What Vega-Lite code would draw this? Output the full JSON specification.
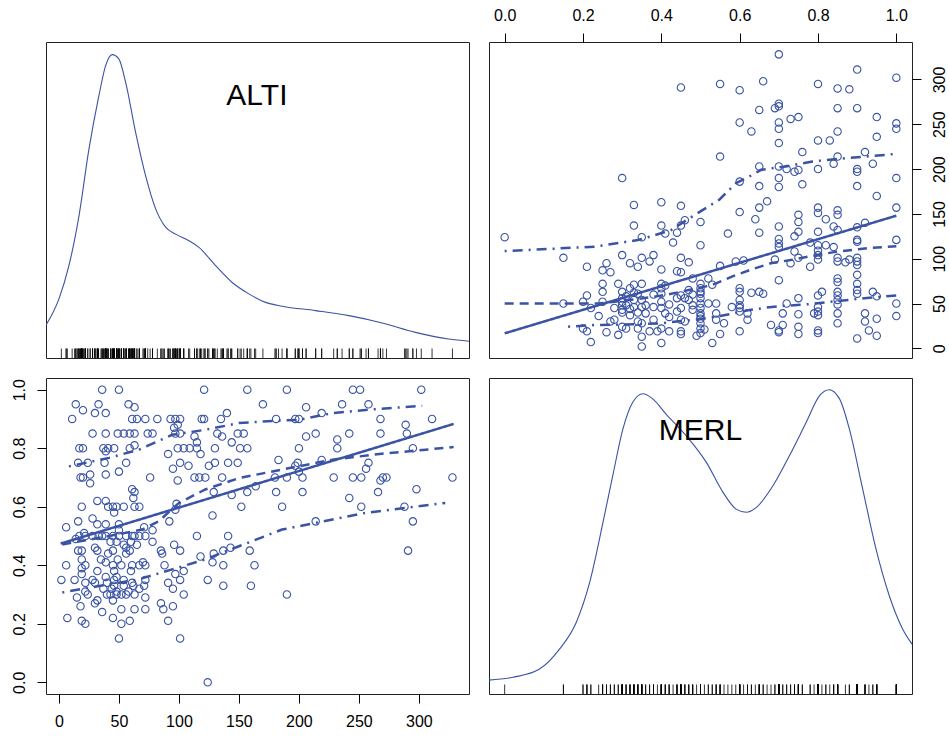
{
  "$schema": "https://vega.github.io/schema/vega-lite/v6.json",
  "padding": {"left": 10, "top": 6, "right": 0, "bottom": 0},
  "background": "white",
  "bounds": "flush",
  "columns": 2,
  "spacing": 20,
  "config": {
    "font": "Liberation Sans",
    "view": {"stroke": "#222222", "strokeWidth": 1},
    "axis": {
      "labelFont": "Liberation Sans", "labelFontSize": 16, "labelColor": "black",
      "tickColor": "black", "tickSize": 9, "tickWidth": 1, "domain": false, "grid": false,
      "labelPadding": 10, "labelOverlap": false, "labelBound": false, "labelFlush": false, "title": null
    }
  },
  "datasets": {
    "pts": [
      {"MERL":0,"ALTI":124},{"MERL":0.15,"ALTI":101},{"MERL":0.15,"ALTI":50},{"MERL":0.2,"ALTI":52},{"MERL":0.2,"ALTI":22},
      {"MERL":0.21,"ALTI":91},{"MERL":0.21,"ALTI":59},{"MERL":0.21,"ALTI":19},{"MERL":0.22,"ALTI":7},{"MERL":0.22,"ALTI":45},
      {"MERL":0.24,"ALTI":36},{"MERL":0.25,"ALTI":72},{"MERL":0.25,"ALTI":63},{"MERL":0.25,"ALTI":52},{"MERL":0.25,"ALTI":87},
      {"MERL":0.26,"ALTI":95},{"MERL":0.26,"ALTI":18},{"MERL":0.27,"ALTI":85},{"MERL":0.27,"ALTI":30},{"MERL":0.28,"ALTI":45},
      {"MERL":0.28,"ALTI":32},{"MERL":0.29,"ALTI":15},{"MERL":0.29,"ALTI":72},{"MERL":0.3,"ALTI":190},{"MERL":0.3,"ALTI":104},
      {"MERL":0.3,"ALTI":63},{"MERL":0.3,"ALTI":56},{"MERL":0.3,"ALTI":48},{"MERL":0.3,"ALTI":43},{"MERL":0.3,"ALTI":24},
      {"MERL":0.31,"ALTI":22},{"MERL":0.31,"ALTI":48},{"MERL":0.32,"ALTI":95},{"MERL":0.32,"ALTI":37},{"MERL":0.32,"ALTI":67},
      {"MERL":0.33,"ALTI":160},{"MERL":0.33,"ALTI":137},{"MERL":0.33,"ALTI":54},{"MERL":0.33,"ALTI":46},{"MERL":0.33,"ALTI":71},
      {"MERL":0.34,"ALTI":22},{"MERL":0.34,"ALTI":30},{"MERL":0.34,"ALTI":91},{"MERL":0.34,"ALTI":61},{"MERL":0.35,"ALTI":46},
      {"MERL":0.35,"ALTI":124},{"MERL":0.35,"ALTI":101},{"MERL":0.35,"ALTI":72},{"MERL":0.35,"ALTI":54},{"MERL":0.35,"ALTI":13},
      {"MERL":0.35,"ALTI":2},{"MERL":0.36,"ALTI":39},{"MERL":0.37,"ALTI":97},{"MERL":0.37,"ALTI":19},{"MERL":0.38,"ALTI":46},
      {"MERL":0.38,"ALTI":32},{"MERL":0.38,"ALTI":104},{"MERL":0.39,"ALTI":19},{"MERL":0.4,"ALTI":163},{"MERL":0.4,"ALTI":137},
      {"MERL":0.4,"ALTI":88},{"MERL":0.4,"ALTI":72},{"MERL":0.4,"ALTI":67},{"MERL":0.4,"ALTI":61},{"MERL":0.4,"ALTI":45},
      {"MERL":0.4,"ALTI":22},{"MERL":0.4,"ALTI":6},{"MERL":0.41,"ALTI":70},{"MERL":0.41,"ALTI":39},{"MERL":0.41,"ALTI":128},
      {"MERL":0.42,"ALTI":19},{"MERL":0.42,"ALTI":49},{"MERL":0.43,"ALTI":118},{"MERL":0.44,"ALTI":41},{"MERL":0.44,"ALTI":86},
      {"MERL":0.44,"ALTI":129},{"MERL":0.45,"ALTI":291},{"MERL":0.45,"ALTI":159},{"MERL":0.45,"ALTI":137},{"MERL":0.45,"ALTI":101},
      {"MERL":0.45,"ALTI":85},{"MERL":0.45,"ALTI":59},{"MERL":0.45,"ALTI":45},{"MERL":0.45,"ALTI":32},{"MERL":0.45,"ALTI":19},
      {"MERL":0.45,"ALTI":16},{"MERL":0.46,"ALTI":143},{"MERL":0.46,"ALTI":56},{"MERL":0.47,"ALTI":65},{"MERL":0.47,"ALTI":54},
      {"MERL":0.47,"ALTI":96},{"MERL":0.48,"ALTI":78},{"MERL":0.48,"ALTI":48},{"MERL":0.48,"ALTI":43},{"MERL":0.49,"ALTI":14},
      {"MERL":0.5,"ALTI":141},{"MERL":0.5,"ALTI":115},{"MERL":0.5,"ALTI":72},{"MERL":0.5,"ALTI":67},{"MERL":0.5,"ALTI":61},
      {"MERL":0.5,"ALTI":56},{"MERL":0.5,"ALTI":50},{"MERL":0.5,"ALTI":45},{"MERL":0.5,"ALTI":39},{"MERL":0.5,"ALTI":33},
      {"MERL":0.5,"ALTI":28},{"MERL":0.5,"ALTI":22},{"MERL":0.5,"ALTI":17},{"MERL":0.51,"ALTI":21},{"MERL":0.52,"ALTI":50},
      {"MERL":0.52,"ALTI":78},{"MERL":0.53,"ALTI":6},{"MERL":0.53,"ALTI":71},{"MERL":0.54,"ALTI":50},{"MERL":0.54,"ALTI":39},
      {"MERL":0.54,"ALTI":32},{"MERL":0.55,"ALTI":295},{"MERL":0.55,"ALTI":214},{"MERL":0.55,"ALTI":92},{"MERL":0.55,"ALTI":16},
      {"MERL":0.56,"ALTI":28},{"MERL":0.57,"ALTI":128},{"MERL":0.58,"ALTI":46},{"MERL":0.59,"ALTI":97},{"MERL":0.6,"ALTI":288},
      {"MERL":0.6,"ALTI":252},{"MERL":0.6,"ALTI":186},{"MERL":0.6,"ALTI":152},{"MERL":0.6,"ALTI":67},{"MERL":0.6,"ALTI":63},
      {"MERL":0.6,"ALTI":54},{"MERL":0.6,"ALTI":48},{"MERL":0.6,"ALTI":45},{"MERL":0.6,"ALTI":41},{"MERL":0.6,"ALTI":19},
      {"MERL":0.61,"ALTI":98},{"MERL":0.62,"ALTI":32},{"MERL":0.62,"ALTI":39},{"MERL":0.63,"ALTI":242},{"MERL":0.63,"ALTI":62},
      {"MERL":0.64,"ALTI":144},{"MERL":0.65,"ALTI":266},{"MERL":0.65,"ALTI":203},{"MERL":0.65,"ALTI":181},{"MERL":0.65,"ALTI":157},
      {"MERL":0.65,"ALTI":129},{"MERL":0.65,"ALTI":63},{"MERL":0.66,"ALTI":298},{"MERL":0.66,"ALTI":61},{"MERL":0.67,"ALTI":164},
      {"MERL":0.68,"ALTI":26},{"MERL":0.69,"ALTI":268},{"MERL":0.69,"ALTI":99},{"MERL":0.7,"ALTI":328},{"MERL":0.7,"ALTI":273},
      {"MERL":0.7,"ALTI":270},{"MERL":0.7,"ALTI":252},{"MERL":0.7,"ALTI":245},{"MERL":0.7,"ALTI":229},{"MERL":0.7,"ALTI":203},
      {"MERL":0.7,"ALTI":190},{"MERL":0.7,"ALTI":180},{"MERL":0.7,"ALTI":136},{"MERL":0.7,"ALTI":122},{"MERL":0.7,"ALTI":117},
      {"MERL":0.7,"ALTI":113},{"MERL":0.7,"ALTI":76},{"MERL":0.7,"ALTI":20},{"MERL":0.7,"ALTI":18},{"MERL":0.71,"ALTI":39},
      {"MERL":0.71,"ALTI":26},{"MERL":0.72,"ALTI":200},{"MERL":0.72,"ALTI":50},{"MERL":0.73,"ALTI":256},{"MERL":0.73,"ALTI":95},
      {"MERL":0.74,"ALTI":108},{"MERL":0.74,"ALTI":197},{"MERL":0.74,"ALTI":125},{"MERL":0.75,"ALTI":258},{"MERL":0.75,"ALTI":199},
      {"MERL":0.75,"ALTI":149},{"MERL":0.75,"ALTI":141},{"MERL":0.75,"ALTI":130},{"MERL":0.75,"ALTI":101},{"MERL":0.75,"ALTI":56},
      {"MERL":0.75,"ALTI":38},{"MERL":0.75,"ALTI":24},{"MERL":0.75,"ALTI":16},{"MERL":0.76,"ALTI":219},{"MERL":0.76,"ALTI":183},
      {"MERL":0.78,"ALTI":91},{"MERL":0.78,"ALTI":118},{"MERL":0.8,"ALTI":295},{"MERL":0.8,"ALTI":232},{"MERL":0.8,"ALTI":200},
      {"MERL":0.8,"ALTI":157},{"MERL":0.8,"ALTI":151},{"MERL":0.8,"ALTI":130},{"MERL":0.8,"ALTI":115},{"MERL":0.8,"ALTI":109},
      {"MERL":0.8,"ALTI":104},{"MERL":0.8,"ALTI":99},{"MERL":0.8,"ALTI":59},{"MERL":0.8,"ALTI":46},{"MERL":0.8,"ALTI":41},
      {"MERL":0.8,"ALTI":37},{"MERL":0.8,"ALTI":20},{"MERL":0.8,"ALTI":17},{"MERL":0.79,"ALTI":39},{"MERL":0.81,"ALTI":63},
      {"MERL":0.82,"ALTI":115},{"MERL":0.82,"ALTI":144},{"MERL":0.83,"ALTI":232},{"MERL":0.84,"ALTI":136},{"MERL":0.84,"ALTI":206},
      {"MERL":0.84,"ALTI":113},{"MERL":0.85,"ALTI":290},{"MERL":0.85,"ALTI":268},{"MERL":0.85,"ALTI":242},{"MERL":0.85,"ALTI":214},
      {"MERL":0.85,"ALTI":154},{"MERL":0.85,"ALTI":149},{"MERL":0.85,"ALTI":132},{"MERL":0.85,"ALTI":101},{"MERL":0.85,"ALTI":97},
      {"MERL":0.85,"ALTI":78},{"MERL":0.85,"ALTI":74},{"MERL":0.85,"ALTI":63},{"MERL":0.85,"ALTI":59},{"MERL":0.85,"ALTI":54},
      {"MERL":0.85,"ALTI":49},{"MERL":0.85,"ALTI":39},{"MERL":0.85,"ALTI":28},{"MERL":0.87,"ALTI":96},{"MERL":0.88,"ALTI":289},
      {"MERL":0.88,"ALTI":99},{"MERL":0.9,"ALTI":311},{"MERL":0.9,"ALTI":268},{"MERL":0.9,"ALTI":200},{"MERL":0.9,"ALTI":197},
      {"MERL":0.9,"ALTI":181},{"MERL":0.9,"ALTI":135},{"MERL":0.9,"ALTI":121},{"MERL":0.9,"ALTI":119},{"MERL":0.9,"ALTI":101},
      {"MERL":0.9,"ALTI":97},{"MERL":0.9,"ALTI":93},{"MERL":0.9,"ALTI":82},{"MERL":0.9,"ALTI":72},{"MERL":0.9,"ALTI":65},
      {"MERL":0.9,"ALTI":61},{"MERL":0.9,"ALTI":11},{"MERL":0.92,"ALTI":140},{"MERL":0.92,"ALTI":39},{"MERL":0.92,"ALTI":30},
      {"MERL":0.92,"ALTI":219},{"MERL":0.93,"ALTI":20},{"MERL":0.94,"ALTI":206},{"MERL":0.94,"ALTI":63},{"MERL":0.95,"ALTI":258},
      {"MERL":0.95,"ALTI":236},{"MERL":0.95,"ALTI":170},{"MERL":0.95,"ALTI":58},{"MERL":0.95,"ALTI":33},{"MERL":0.95,"ALTI":14},
      {"MERL":1,"ALTI":302},{"MERL":1,"ALTI":251},{"MERL":1,"ALTI":245},{"MERL":1,"ALTI":190},{"MERL":1,"ALTI":157},
      {"MERL":1,"ALTI":121},{"MERL":1,"ALTI":50},{"MERL":1,"ALTI":36},
      {"MERL":0.3,"ALTI":40},{"MERL":0.3,"ALTI":52},{"MERL":0.31,"ALTI":58},{"MERL":0.32,"ALTI":44},{"MERL":0.33,"ALTI":62},
      {"MERL":0.34,"ALTI":40},{"MERL":0.35,"ALTI":28},{"MERL":0.36,"ALTI":48},{"MERL":0.38,"ALTI":60},{"MERL":0.4,"ALTI":52},
      {"MERL":0.42,"ALTI":35},{"MERL":0.44,"ALTI":56},{"MERL":0.46,"ALTI":30},{"MERL":0.48,"ALTI":60},{"MERL":0.5,"ALTI":63},
      {"MERL":0.5,"ALTI":36}
    ],
    "altiDens": [
      {"ALTI":-10.8,"dens":0.104},{"ALTI":0,"dens":0.187},{"ALTI":8.3,"dens":0.292},{"ALTI":16.7,"dens":0.45},
      {"ALTI":25,"dens":0.661},{"ALTI":33.3,"dens":0.83},{"ALTI":38.9,"dens":0.925},{"ALTI":44.4,"dens":0.96},
      {"ALTI":50,"dens":0.946},{"ALTI":55.6,"dens":0.872},{"ALTI":63.9,"dens":0.714},{"ALTI":72.2,"dens":0.577},
      {"ALTI":80.6,"dens":0.472},{"ALTI":88.9,"dens":0.414},{"ALTI":97.2,"dens":0.392},{"ALTI":108.3,"dens":0.371},
      {"ALTI":116.7,"dens":0.35},{"ALTI":130.6,"dens":0.292},{"ALTI":144.4,"dens":0.239},{"ALTI":158.3,"dens":0.203},
      {"ALTI":172.2,"dens":0.176},{"ALTI":186.1,"dens":0.164},{"ALTI":213.9,"dens":0.15},{"ALTI":241.7,"dens":0.134},
      {"ALTI":269.4,"dens":0.111},{"ALTI":297.2,"dens":0.081},{"ALTI":325,"dens":0.06},{"ALTI":341.8,"dens":0.053}
    ],
    "merlDens": [
      {"MERL":-0.04,"dens":0.044},{"MERL":0.021,"dens":0.053},{"MERL":0.089,"dens":0.079},{"MERL":0.14,"dens":0.142},
      {"MERL":0.183,"dens":0.227},{"MERL":0.217,"dens":0.353},{"MERL":0.251,"dens":0.543},{"MERL":0.276,"dens":0.691},
      {"MERL":0.302,"dens":0.839},{"MERL":0.327,"dens":0.923},{"MERL":0.353,"dens":0.95},{"MERL":0.378,"dens":0.934},
      {"MERL":0.412,"dens":0.886},{"MERL":0.463,"dens":0.818},{"MERL":0.515,"dens":0.733},{"MERL":0.557,"dens":0.639},
      {"MERL":0.591,"dens":0.585},{"MERL":0.617,"dens":0.575},{"MERL":0.642,"dens":0.59},{"MERL":0.685,"dens":0.659},
      {"MERL":0.727,"dens":0.754},{"MERL":0.77,"dens":0.86},{"MERL":0.804,"dens":0.944},{"MERL":0.828,"dens":0.963},
      {"MERL":0.855,"dens":0.934},{"MERL":0.88,"dens":0.839},{"MERL":0.914,"dens":0.649},{"MERL":0.948,"dens":0.459},
      {"MERL":0.982,"dens":0.311},{"MERL":1.016,"dens":0.206},{"MERL":1.04,"dens":0.158}
    ],
    "lines": [
      {"panel":"TR","kind":"reg","MERL":0,"ALTI":16.7},{"panel":"TR","kind":"reg","MERL":1,"ALTI":148},
      {"panel":"TR","kind":"loess","MERL":0,"ALTI":50},{"panel":"TR","kind":"loess","MERL":0.24,"ALTI":50},
      {"panel":"TR","kind":"loess","MERL":0.34,"ALTI":55},{"panel":"TR","kind":"loess","MERL":0.41,"ALTI":59.5},
      {"panel":"TR","kind":"loess","MERL":0.47,"ALTI":65},{"panel":"TR","kind":"loess","MERL":0.53,"ALTI":70.6},
      {"panel":"TR","kind":"loess","MERL":0.58,"ALTI":80},{"panel":"TR","kind":"loess","MERL":0.63,"ALTI":88},
      {"panel":"TR","kind":"loess","MERL":0.68,"ALTI":95},{"panel":"TR","kind":"loess","MERL":0.73,"ALTI":98.5},
      {"panel":"TR","kind":"loess","MERL":0.77,"ALTI":102},{"panel":"TR","kind":"loess","MERL":0.85,"ALTI":108},
      {"panel":"TR","kind":"loess","MERL":0.92,"ALTI":111.5},{"panel":"TR","kind":"loess","MERL":1,"ALTI":114},
      {"panel":"TR","kind":"upper","MERL":0,"ALTI":108.5},{"panel":"TR","kind":"upper","MERL":0.23,"ALTI":113.4},
      {"panel":"TR","kind":"upper","MERL":0.34,"ALTI":120.8},{"panel":"TR","kind":"upper","MERL":0.37,"ALTI":124.5},
      {"panel":"TR","kind":"upper","MERL":0.425,"ALTI":132},{"panel":"TR","kind":"upper","MERL":0.485,"ALTI":148.7},
      {"panel":"TR","kind":"upper","MERL":0.548,"ALTI":165.8},{"panel":"TR","kind":"upper","MERL":0.591,"ALTI":184.4},
      {"panel":"TR","kind":"upper","MERL":0.625,"ALTI":191.8},{"panel":"TR","kind":"upper","MERL":0.655,"ALTI":199.2},
      {"panel":"TR","kind":"upper","MERL":0.718,"ALTI":203},{"panel":"TR","kind":"upper","MERL":0.786,"ALTI":208.5},
      {"panel":"TR","kind":"upper","MERL":0.855,"ALTI":211.5},{"panel":"TR","kind":"upper","MERL":0.923,"ALTI":214},
      {"panel":"TR","kind":"upper","MERL":1,"ALTI":217},
      {"panel":"TR","kind":"lower","MERL":0.162,"ALTI":24.2},{"panel":"TR","kind":"lower","MERL":0.23,"ALTI":26},
      {"panel":"TR","kind":"lower","MERL":0.332,"ALTI":26.8},{"panel":"TR","kind":"lower","MERL":0.4,"ALTI":27.9},
      {"panel":"TR","kind":"lower","MERL":0.45,"ALTI":30.5},{"panel":"TR","kind":"lower","MERL":0.485,"ALTI":31.6},
      {"panel":"TR","kind":"lower","MERL":0.55,"ALTI":36},{"panel":"TR","kind":"lower","MERL":0.625,"ALTI":42.7},
      {"panel":"TR","kind":"lower","MERL":0.668,"ALTI":45.4},{"panel":"TR","kind":"lower","MERL":0.719,"ALTI":47.6},
      {"panel":"TR","kind":"lower","MERL":0.77,"ALTI":49},{"panel":"TR","kind":"lower","MERL":0.833,"ALTI":52},
      {"panel":"TR","kind":"lower","MERL":0.918,"ALTI":55.8},{"panel":"TR","kind":"lower","MERL":1,"ALTI":59},
      {"panel":"BL","kind":"reg","ALTI":1.4,"MERL":0.474},{"panel":"BL","kind":"reg","ALTI":329,"MERL":0.883},
      {"panel":"BL","kind":"loess","ALTI":2.8,"MERL":0.471},{"panel":"BL","kind":"loess","ALTI":41.7,"MERL":0.5},
      {"panel":"BL","kind":"loess","ALTI":69.4,"MERL":0.522},{"panel":"BL","kind":"loess","ALTI":83.3,"MERL":0.551},
      {"panel":"BL","kind":"loess","ALTI":100,"MERL":0.613},{"panel":"BL","kind":"loess","ALTI":122,"MERL":0.659},
      {"panel":"BL","kind":"loess","ALTI":150,"MERL":0.698},{"panel":"BL","kind":"loess","ALTI":186,"MERL":0.727},
      {"panel":"BL","kind":"loess","ALTI":228,"MERL":0.761},{"panel":"BL","kind":"loess","ALTI":269,"MERL":0.781},
      {"panel":"BL","kind":"loess","ALTI":329,"MERL":0.804},
      {"panel":"BL","kind":"upper","ALTI":8.3,"MERL":0.738},{"panel":"BL","kind":"upper","ALTI":41.7,"MERL":0.767},
      {"panel":"BL","kind":"upper","ALTI":66.7,"MERL":0.795},{"panel":"BL","kind":"upper","ALTI":94.4,"MERL":0.846},
      {"panel":"BL","kind":"upper","ALTI":122,"MERL":0.863},{"panel":"BL","kind":"upper","ALTI":150,"MERL":0.886},
      {"panel":"BL","kind":"upper","ALTI":186,"MERL":0.895},{"panel":"BL","kind":"upper","ALTI":200,"MERL":0.897},
      {"panel":"BL","kind":"upper","ALTI":228,"MERL":0.92},{"panel":"BL","kind":"upper","ALTI":255.6,"MERL":0.931},
      {"panel":"BL","kind":"upper","ALTI":302.8,"MERL":0.945},
      {"panel":"BL","kind":"lower","ALTI":2.8,"MERL":0.307},{"panel":"BL","kind":"lower","ALTI":33.3,"MERL":0.329},
      {"panel":"BL","kind":"lower","ALTI":66.7,"MERL":0.352},{"panel":"BL","kind":"lower","ALTI":94.4,"MERL":0.386},
      {"panel":"BL","kind":"lower","ALTI":122,"MERL":0.42},{"panel":"BL","kind":"lower","ALTI":150,"MERL":0.465},
      {"panel":"BL","kind":"lower","ALTI":186,"MERL":0.522},{"panel":"BL","kind":"lower","ALTI":214,"MERL":0.545},
      {"panel":"BL","kind":"lower","ALTI":255.6,"MERL":0.579},{"panel":"BL","kind":"lower","ALTI":322,"MERL":0.613}
    ]
  },
  "concat": [
    {
      "width": 423, "height": 316,
      "layer": [
        {
          "data": {"name": "altiDens"},
          "mark": {"type": "line", "color": "#3A53A4", "strokeWidth": 1.1, "clip": true, "interpolate": "monotone"},
          "encoding": {
            "x": {"field": "ALTI", "type": "quantitative", "scale": {"domain": [-10.8, 341.8], "nice": false, "zero": false}, "axis": null},
            "y": {"field": "dens", "type": "quantitative", "scale": {"domain": [0, 1], "nice": false, "zero": false}, "axis": null}
          }
        },
        {
          "data": {"name": "pts"},
          "mark": {"type": "rule", "color": "black", "strokeWidth": 0.8},
          "encoding": {
            "x": {"field": "ALTI", "type": "quantitative"},
            "y": {"datum": 0},
            "y2": {"datum": 0.03}
          }
        },
        {
          "data": {"values": [{}]},
          "mark": {"type": "text", "text": "ALTI", "fontSize": 30, "font": "Liberation Sans", "color": "black"},
          "encoding": {"x": {"datum": 165}, "y": {"datum": 0.83}}
        }
      ]
    },
    {
      "width": 423, "height": 316,
      "encoding": {
        "x": {"field": "MERL", "type": "quantitative", "scale": {"domain": [-0.04, 1.04], "nice": false, "zero": false},
              "axis": {"orient": "top", "values": [0, 0.2, 0.4, 0.6, 0.8, 1], "format": ".1f"}},
        "y": {"field": "ALTI", "type": "quantitative", "scale": {"domain": [-10.8, 341.8], "nice": false, "zero": false},
              "axis": {"orient": "right", "values": [0, 50, 100, 150, 200, 250, 300], "labelAngle": -90}}
      },
      "layer": [
        {
          "data": {"name": "pts"},
          "mark": {"type": "point", "shape": "circle", "filled": false, "size": 55, "strokeWidth": 1.1, "color": "#3A53A4", "opacity": 1}
        },
        {
          "data": {"name": "lines"},
          "transform": [{"filter": "datum.panel === 'TR'"}],
          "mark": {"type": "line", "color": "#3A53A4", "strokeWidth": 2.5},
          "encoding": {
            "strokeDash": {"field": "kind", "type": "nominal", "legend": null,
              "scale": {"domain": ["reg", "loess", "upper", "lower"], "range": [[1, 0], [9, 6], [2, 6, 10, 6], [2, 6, 10, 6]]}}
          }
        }
      ]
    },
    {
      "width": 423, "height": 316,
      "encoding": {
        "x": {"field": "ALTI", "type": "quantitative", "scale": {"domain": [-10.8, 341.8], "nice": false, "zero": false},
              "axis": {"orient": "bottom", "values": [0, 50, 100, 150, 200, 250, 300]}},
        "y": {"field": "MERL", "type": "quantitative", "scale": {"domain": [-0.04, 1.04], "nice": false, "zero": false},
              "axis": {"orient": "left", "values": [0, 0.2, 0.4, 0.6, 0.8, 1], "format": ".1f", "labelAngle": -90}}
      },
      "layer": [
        {
          "data": {"name": "pts"},
          "mark": {"type": "point", "shape": "circle", "filled": false, "size": 55, "strokeWidth": 1.1, "color": "#3A53A4", "opacity": 1}
        },
        {
          "data": {"name": "lines"},
          "transform": [{"filter": "datum.panel === 'BL'"}],
          "mark": {"type": "line", "color": "#3A53A4", "strokeWidth": 2.5},
          "encoding": {
            "strokeDash": {"field": "kind", "type": "nominal", "legend": null,
              "scale": {"domain": ["reg", "loess", "upper", "lower"], "range": [[1, 0], [9, 6], [2, 6, 10, 6], [2, 6, 10, 6]]}}
          }
        }
      ]
    },
    {
      "width": 423, "height": 316,
      "layer": [
        {
          "data": {"name": "merlDens"},
          "mark": {"type": "line", "color": "#3A53A4", "strokeWidth": 1.1, "clip": true, "interpolate": "monotone"},
          "encoding": {
            "x": {"field": "MERL", "type": "quantitative", "scale": {"domain": [-0.04, 1.04], "nice": false, "zero": false}, "axis": null},
            "y": {"field": "dens", "type": "quantitative", "scale": {"domain": [0, 1], "nice": false, "zero": false}, "axis": null}
          }
        },
        {
          "data": {"name": "pts"},
          "mark": {"type": "rule", "color": "black", "strokeWidth": 0.8},
          "encoding": {
            "x": {"field": "MERL", "type": "quantitative"},
            "y": {"datum": 0},
            "y2": {"datum": 0.03}
          }
        },
        {
          "data": {"values": [{}]},
          "mark": {"type": "text", "text": "MERL", "fontSize": 30, "font": "Liberation Sans", "color": "black"},
          "encoding": {"x": {"datum": 0.5}, "y": {"datum": 0.833}}
        }
      ]
    }
  ]
}
